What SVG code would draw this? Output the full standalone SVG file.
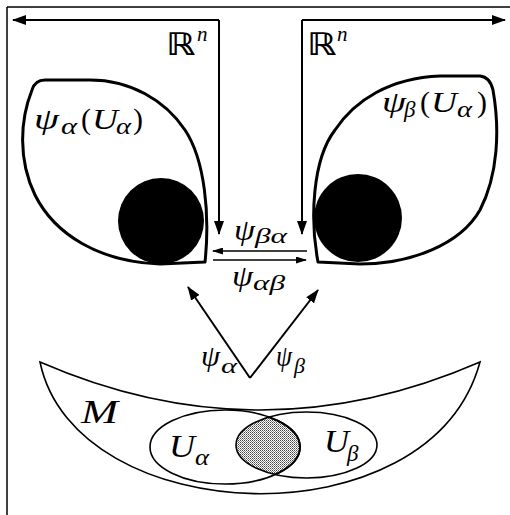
<svg xmlns="http://www.w3.org/2000/svg" width="510" height="515" viewBox="0 0 510 515">
<style>
.frame{fill:none;stroke:#000;stroke-width:1.5}
.blob{fill:none;stroke:#000;stroke-width:3;stroke-linejoin:round}
.thin{fill:none;stroke:#000;stroke-width:1.6}
.arr{fill:none;stroke:#000;stroke-width:2}
.arrs{fill:none;stroke:#000;stroke-width:1.3}
.m{font-family:"Liberation Serif","Times New Roman",serif;font-style:italic;fill:#000}
.up{font-family:"Liberation Serif","Times New Roman",serif;fill:#000}
.bb{font-family:"DejaVu Serif","DejaVu Sans",serif;font-weight:bold;fill:#000}
</style>
<defs>
<marker id="ah" markerWidth="14" markerHeight="10" refX="13" refY="5" orient="auto" markerUnits="userSpaceOnUse"><path d="M0,0 L14,5 L0,10 Z" fill="#000"/></marker>
<marker id="ahs" markerWidth="11" markerHeight="7" refX="10" refY="3.5" orient="auto" markerUnits="userSpaceOnUse"><path d="M0,0 L11,3.5 L0,7 Z" fill="#000"/></marker>
<path id="leftShape" d="M205,262 C210,215 205,160 185,130 C165,100 130,80 90,80 L45,80 Q35,80 32,90 C20,120 18,160 35,195 C55,235 100,262 160,264 Z"/>
<path id="rightShape" d="M318,262 C310,220 312,160 335,130 C355,100 390,78 440,76 L480,76 Q490,77 493,90 C500,130 498,175 480,210 C460,245 410,264 360,264 Z"/>
<clipPath id="clipL"><use href="#leftShape"/></clipPath>
<clipPath id="clipR"><use href="#rightShape"/></clipPath>
<clipPath id="clipUb"><ellipse cx="306.5" cy="445" rx="70.5" ry="33"/></clipPath>
<pattern id="dots" width="2" height="2" patternUnits="userSpaceOnUse"><rect width="2" height="2" fill="#fff"/><rect width="1" height="1" fill="#444"/><rect x="1" y="1" width="1" height="1" fill="#888"/></pattern>
</defs>

<g id="frame">
<line class="frame" x1="7" y1="7" x2="510" y2="7"/>
<line class="frame" x1="7" y1="7" x2="7" y2="515"/>
</g>

<g id="rn-left">
<text class="bb" x="166" y="55" font-size="31" textLength="29" lengthAdjust="spacingAndGlyphs">ℝ</text>
<text class="m" x="197" y="41" font-size="21">n</text>
</g>
<g id="rn-right">
<text class="bb" x="307" y="55" font-size="31" textLength="29" lengthAdjust="spacingAndGlyphs">ℝ</text>
<text class="m" x="337" y="41" font-size="21">n</text>
</g>

<g id="chart-left">
<circle cx="161" cy="221" r="43" fill="#000" clip-path="url(#clipL)"/>
<use href="#leftShape" class="blob"/>
<text class="m" x="34" y="129" font-size="30" textLength="25" lengthAdjust="spacingAndGlyphs">ψ</text>
<text class="m" x="61" y="134" font-size="23" textLength="16" lengthAdjust="spacingAndGlyphs">α</text>
<text class="up" x="81" y="129" font-size="30">(</text>
<text class="m" x="92" y="129" font-size="30" textLength="26" lengthAdjust="spacingAndGlyphs">U</text>
<text class="m" x="116" y="134" font-size="23" textLength="15" lengthAdjust="spacingAndGlyphs">α</text>
<text class="up" x="133" y="129" font-size="30">)</text>
</g>

<g id="chart-right">
<circle cx="358" cy="218" r="44" fill="#000" clip-path="url(#clipR)"/>
<use href="#rightShape" class="blob"/>
<text class="m" x="382" y="112" font-size="30" textLength="24" lengthAdjust="spacingAndGlyphs">ψ</text>
<text class="m" x="404" y="117" font-size="23">β</text>
<text class="up" x="420" y="112" font-size="30">(</text>
<text class="m" x="431" y="112" font-size="30" textLength="26" lengthAdjust="spacingAndGlyphs">U</text>
<text class="m" x="457" y="117" font-size="23" textLength="15" lengthAdjust="spacingAndGlyphs">α</text>
<text class="up" x="477" y="112" font-size="30">)</text>
</g>

<g id="manifold">
<path class="thin" d="M40,362 Q260,458 480,362 C430,545 75,530 40,362 Z"/>
<ellipse cx="225" cy="447" rx="75" ry="37" fill="url(#dots)" stroke="none" clip-path="url(#clipUb)"/>
<ellipse cx="225" cy="447" rx="75" ry="37" fill="none" stroke="#000" stroke-width="1.6"/>
<ellipse cx="306.5" cy="445" rx="70.5" ry="33" fill="none" stroke="#000" stroke-width="1.6"/>
<ellipse cx="225" cy="447" rx="75" ry="37" fill="none" stroke="#000" stroke-width="2" clip-path="url(#clipUb)"/>
<text class="m" x="81" y="423" font-size="33" textLength="37" lengthAdjust="spacingAndGlyphs">M</text>
<text class="m" x="169" y="457" font-size="32" textLength="26" lengthAdjust="spacingAndGlyphs">U</text>
<text class="m" x="195" y="465" font-size="23" textLength="14" lengthAdjust="spacingAndGlyphs">α</text>
<text class="m" x="324" y="452" font-size="32" textLength="25" lengthAdjust="spacingAndGlyphs">U</text>
<text class="m" x="347" y="461" font-size="23">β</text>
</g>

<g id="connectors">
<path class="arr" d="M219,20 L219,234" marker-end="url(#ah)"/>
<path class="arr" d="M219,20 L13,20" marker-end="url(#ah)"/>
<path class="arr" d="M302,20 L302,234" marker-end="url(#ah)"/>
<path class="arr" d="M302,20 L505,20" marker-end="url(#ah)"/>
<path class="arrs" d="M307,251 L213,251" marker-end="url(#ahs)"/>
<path class="arrs" d="M213,260 L306,260" marker-end="url(#ahs)"/>
<path class="arr" d="M250,378 L188,287" marker-end="url(#ah)"/>
<path class="arr" d="M250,378 L318,290" marker-end="url(#ah)"/>
</g>

<g id="labels">
<text class="m" x="234" y="240" font-size="30" textLength="21" lengthAdjust="spacingAndGlyphs">ψ</text>
<text class="m" x="255" y="243" font-size="22" textLength="32" lengthAdjust="spacingAndGlyphs">βα</text>
<text class="m" x="232" y="286" font-size="30" textLength="21" lengthAdjust="spacingAndGlyphs">ψ</text>
<text class="m" x="253" y="290" font-size="22" textLength="32" lengthAdjust="spacingAndGlyphs">αβ</text>
<text class="m" x="201" y="366" font-size="30" textLength="19" lengthAdjust="spacingAndGlyphs">ψ</text>
<text class="m" x="221" y="373" font-size="22" textLength="16" lengthAdjust="spacingAndGlyphs">α</text>
<text class="m" x="276" y="366" font-size="30" textLength="16" lengthAdjust="spacingAndGlyphs">ψ</text>
<text class="m" x="294" y="373" font-size="22">β</text>
</g>
</svg>
